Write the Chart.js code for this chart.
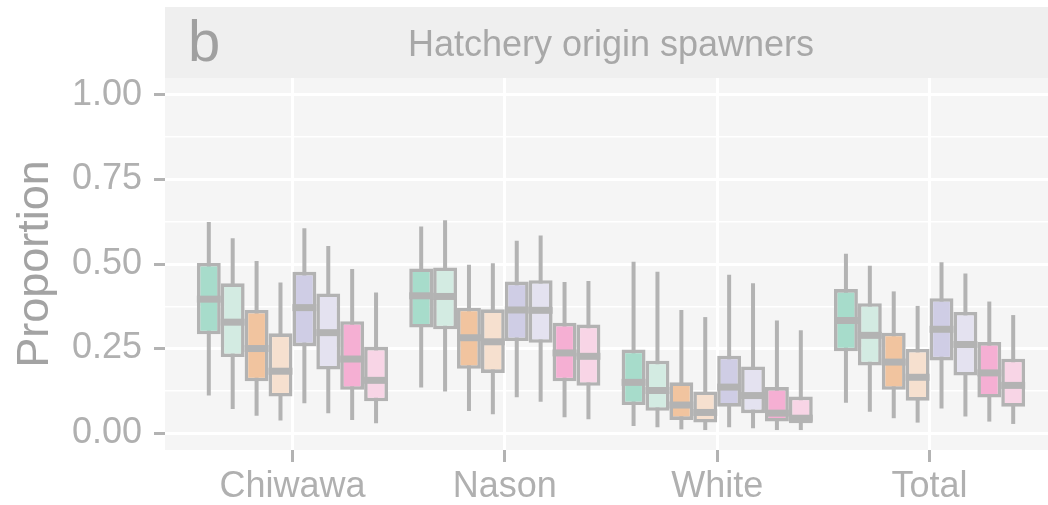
<!DOCTYPE html>
<html>
<head>
<meta charset="utf-8">
<script src="https://cdn.jsdelivr.net/npm/chart.js@4.4.1/dist/chart.umd.min.js"></script>
<style>
  html, body { margin: 0; padding: 0; background: #fff; overflow: hidden; }
  #wrap { position: relative; width: 1057px; height: 505px; }
</style>
</head>
<body>
<div id="wrap"><canvas id="chart"></canvas></div>
<script>
const groups = ['Chiwawa', 'Nason', 'White', 'Total'];
const seriesNames = ['s1', 's2', 's3', 's4', 's5', 's6', 's7', 's8'];
const seriesColors = ['#a7dccb', '#d3ebe2', '#f1c49f', '#f6e0cf', '#cfcde5', '#e4e2f0', '#f5afd3', '#f8d5e6'];

// one row per series, one value per group (Chiwawa, Nason, White, Total)
const whiskerLow = [
    [0.111, 0.135, 0.021, 0.090],
    [0.071, 0.123, 0.017, 0.063],
    [0.051, 0.065, 0.011, 0.044],
    [0.037, 0.056, 0.009, 0.031],
    [0.088, 0.106, 0.017, 0.073],
    [0.059, 0.093, 0.014, 0.049],
    [0.039, 0.047, 0.009, 0.034],
    [0.029, 0.041, 0.009, 0.027]
];
const boxLow = [
    [0.292, 0.312, 0.083, 0.242],
    [0.225, 0.307, 0.066, 0.200],
    [0.153, 0.190, 0.039, 0.128],
    [0.108, 0.178, 0.031, 0.096],
    [0.257, 0.272, 0.078, 0.215],
    [0.188, 0.267, 0.059, 0.170],
    [0.128, 0.153, 0.034, 0.105],
    [0.094, 0.140, 0.029, 0.078]
];
const medians = [
    [0.396, 0.406, 0.150, 0.333],
    [0.328, 0.404, 0.126, 0.289],
    [0.250, 0.282, 0.083, 0.210],
    [0.183, 0.270, 0.061, 0.165],
    [0.371, 0.364, 0.136, 0.307],
    [0.297, 0.363, 0.111, 0.262],
    [0.219, 0.237, 0.059, 0.178],
    [0.156, 0.227, 0.044, 0.141]
];
const boxHigh = [
    [0.503, 0.487, 0.247, 0.426],
    [0.443, 0.490, 0.214, 0.384],
    [0.364, 0.371, 0.150, 0.297],
    [0.295, 0.366, 0.123, 0.249],
    [0.477, 0.448, 0.229, 0.399],
    [0.413, 0.452, 0.197, 0.358],
    [0.331, 0.326, 0.136, 0.269],
    [0.255, 0.321, 0.108, 0.220]
];
const whiskerHigh = [
    [0.624, 0.611, 0.507, 0.530],
    [0.576, 0.629, 0.477, 0.495],
    [0.509, 0.498, 0.364, 0.419],
    [0.445, 0.502, 0.343, 0.376],
    [0.606, 0.569, 0.468, 0.505],
    [0.553, 0.584, 0.443, 0.472],
    [0.485, 0.447, 0.333, 0.389],
    [0.416, 0.450, 0.304, 0.349]
];
const yTicks = [0, 0.125, 0.25, 0.375, 0.5, 0.625, 0.75, 0.875, 1];

const FONT = "'Liberation Sans', Arial, sans-serif";
const LINE = '#b3b3b3';
const isMajor = v => Math.abs(v * 4 - Math.round(v * 4)) < 1e-6;

// strip, panel background and the whisker / median strokes around the floating bars
const boxPlot = {
    id: 'boxPlot',
    beforeDraw(chart) {
        const { ctx, chartArea: a } = chart, t = chart.titleBlock;
        ctx.save();
        ctx.fillStyle = '#f5f5f5';
        ctx.fillRect(a.left, a.top, a.right - a.left, a.bottom - a.top);
        ctx.fillStyle = '#efefef';
        ctx.fillRect(t.left, t.top, t.width, t.height);
        ctx.fillStyle = '#a0a0a0';
        ctx.font = `58px ${FONT}`;
        ctx.textBaseline = 'alphabetic';
        ctx.fillText('b', a.left + 23, t.top + 54);
        ctx.restore();
    },
    beforeDatasetsDraw(chart) {
        const { ctx } = chart, y = chart.scales.y;
        ctx.save();
        ctx.strokeStyle = LINE;
        ctx.lineWidth = 4;
        chart.data.datasets.forEach((ds, i) => {
            chart.getDatasetMeta(i).data.forEach((bar, j) => {
                ctx.beginPath();
                ctx.moveTo(bar.x, y.getPixelForValue(whiskerLow[i][j]));
                ctx.lineTo(bar.x, y.getPixelForValue(whiskerHigh[i][j]));
                ctx.stroke();
            });
        });
        ctx.restore();
    },
    afterDatasetsDraw(chart) {
        const { ctx } = chart, y = chart.scales.y;
        ctx.save();
        ctx.strokeStyle = LINE;
        ctx.lineWidth = 7;
        chart.data.datasets.forEach((ds, i) => {
            chart.getDatasetMeta(i).data.forEach((bar, j) => {
                const py = y.getPixelForValue(medians[i][j]);
                ctx.beginPath();
                ctx.moveTo(bar.x - bar.width / 2, py);
                ctx.lineTo(bar.x + bar.width / 2, py);
                ctx.stroke();
            });
        });
        ctx.restore();
    }
};

const datasets = seriesNames.map((name, i) => ({
    label: name,
    data: groups.map((g, j) => ({ x: j + 1, y: [boxLow[i][j], boxHigh[i][j]] })),
    backgroundColor: seriesColors[i],
    borderColor: LINE,
    borderWidth: 3.6,
    borderSkipped: false,
    categoryPercentage: 0.9,
    barPercentage: 1
}));

new Chart(document.getElementById('chart'), {
    type: 'bar',
    data: { datasets },
    plugins: [boxPlot],
    options: {
        responsive: true,
        maintainAspectRatio: false,
        animation: false,
        layout: { padding: { top: 7, right: 0, bottom: 0, left: 0 } },
        plugins: {
            legend: { display: false },
            tooltip: { enabled: false },
            title: {
                display: true,
                fullSize: false,
                text: 'Hatchery origin spawners',
                color: '#a8a8a8',
                font: { family: FONT, size: 36, weight: 'normal', lineHeight: 1.2 },
                padding: { top: 17, bottom: 10.8 }
            }
        },
        scales: {
            x: {
                type: 'linear',
                min: 0.4,
                max: 4.6,
                offset: false,
                afterBuildTicks: s => { s.ticks = groups.map((g, j) => ({ value: j + 1 })); },
                afterFit: s => { s.height = 55; },
                ticks: {
                    callback: v => groups[v - 1],
                    color: '#b0b0b0',
                    font: { family: FONT, size: 36 },
                    padding: 3,
                    maxRotation: 0,
                    autoSkip: false
                },
                grid: { offset: false, color: '#ffffff', lineWidth: 3, tickColor: LINE, tickLength: 12, tickWidth: 3 },
                border: { display: false }
            },
            y: {
                min: -0.05,
                max: 1.05,
                stacked: false,
                afterBuildTicks: s => { s.ticks = yTicks.map(v => ({ value: v })); },
                afterFit: s => { s.width = 165; },
                ticks: {
                    callback: v => isMajor(v) ? v.toFixed(2) : '',
                    color: '#b0b0b0',
                    font: { family: FONT, size: 36 },
                    padding: 12
                },
                grid: {
                    color: '#ffffff',
                    lineWidth: c => isMajor(c.tick.value) ? 3 : 1.5,
                    tickColor: c => isMajor(c.tick.value) ? LINE : 'rgba(0,0,0,0)',
                    tickLength: 11,
                    tickWidth: 3
                },
                border: { display: false },
                title: {
                    display: true,
                    text: 'Proportion',
                    color: '#a3a3a3',
                    font: { family: FONT, size: 45 },
                    padding: { top: 9, bottom: 0 }
                }
            }
        }
    }
});
</script>
</body>
</html>
